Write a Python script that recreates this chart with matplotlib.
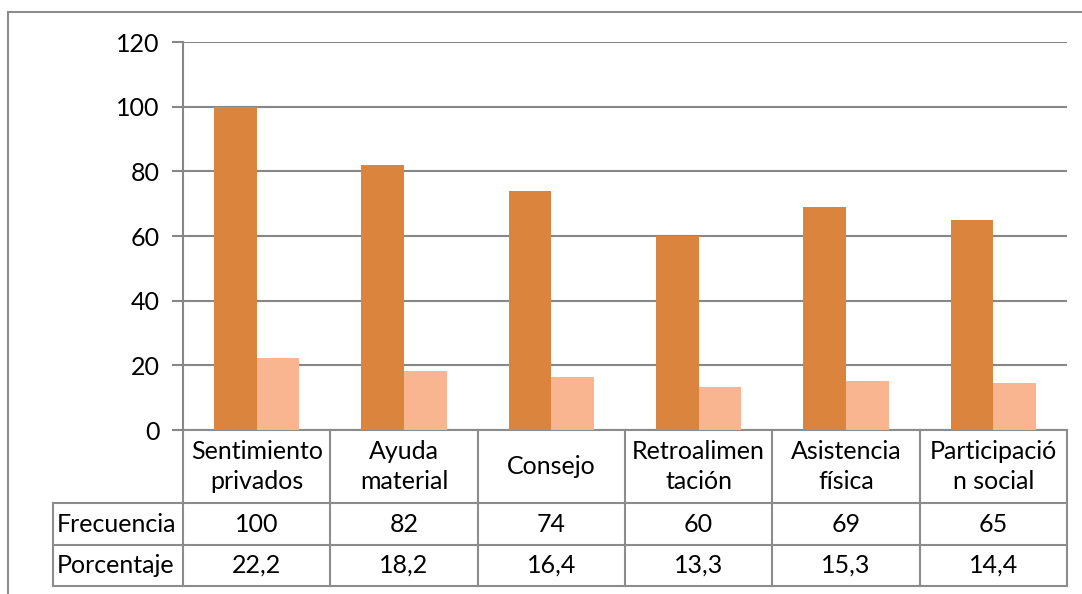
import matplotlib
matplotlib.use("Agg")
import matplotlib.pyplot as plt
from matplotlib.lines import Line2D
import matplotlib.transforms as mtransforms

categories = ["Sentimiento\nprivados", "Ayuda\nmaterial", "Consejo",
              "Retroalimen\ntación", "Asistencia\nfísica", "Participació\nn social"]
frecuencia = [100, 82, 74, 60, 69, 65]
porcentaje = [22.2, 18.2, 16.4, 13.3, 15.3, 14.4]
row_labels = ["Frecuencia", "Porcentaje"]
yticks = [0, 20, 40, 60, 80, 100, 120]

W, H = 1082, 594
FS = 18
plt.rcParams['font.family'] = ['Lato', 'DejaVu Sans']
fig = plt.figure(figsize=(W / 100, H / 100), dpi=100)

x0, x1, ytop, ybot = 183, 1067, 42, 430
ax = fig.add_axes([x0 / W, 1 - ybot / H, (x1 - x0) / W, (ybot - ytop) / H])

c1 = "#DB843D"
c2 = "#F9B590"
grid = "#878787"
n = len(categories)
xs = list(range(n))
bw = 0.29
ax.bar([x - bw / 2 for x in xs], frecuencia, width=bw, color=c1, zorder=3)
ax.bar([x + bw / 2 for x in xs], porcentaje, width=bw, color=c2, zorder=3)

ax.set_xlim(-0.5, n - 0.5)
ax.set_ylim(0, 120)
ax.set_yticks(yticks)
ax.set_yticklabels([str(v) for v in yticks], fontsize=FS)
ax.set_xticks([])
ax.yaxis.grid(True, color=grid, linewidth=1.5, zorder=0)
for s in ["top", "right", "bottom"]:
    ax.spines[s].set_visible(False)
ax.spines["left"].set_color(grid)
ax.spines["left"].set_linewidth(1.5)
ax.tick_params(axis="y", length=8, width=1.5, color=grid, pad=9)

# data table below the axes
trans = mtransforms.blended_transform_factory(ax.transData, ax.transAxes)
ph = ybot - ytop
def fy(py):
    return (ybot - py) / ph

y_head = fy(503)
y_r1 = fy(545)
y_r2 = fy(586)
lw = 1.5
lc = "#8C8C8C"
def hline(xa, xb, y):
    ax.add_line(Line2D([xa, xb], [y, y], transform=trans, color=lc, lw=lw, clip_on=False))
def vline(x, ya, yb):
    ax.add_line(Line2D([x, x], [ya, yb], transform=trans, color=lc, lw=lw, clip_on=False))

lab_left = -0.5 - (x0 - 53) / ((x1 - x0) / n)
hline(-0.5, n - 0.5, 0)
hline(lab_left, n - 0.5, y_head)
hline(lab_left, n - 0.5, y_r1)
hline(lab_left, n - 0.5, y_r2)
for i in range(n + 1):
    vline(i - 0.5, 0, y_r2)
vline(lab_left, y_head, y_r2)

for i, cat in enumerate(categories):
    ax.text(i, (0 + y_head) / 2, cat, transform=trans, ha="center", va="center",
            fontsize=FS, linespacing=1.38, clip_on=False)
    ax.text(i, (y_head + y_r1) / 2, str(frecuencia[i]), transform=trans,
            ha="center", va="center", fontsize=FS, clip_on=False)
    ax.text(i, (y_r1 + y_r2) / 2, f"{porcentaje[i]:.1f}".replace(".", ","),
            transform=trans, ha="center", va="center", fontsize=FS, clip_on=False)
for j, (ya, yb) in enumerate([(y_head, y_r1), (y_r1, y_r2)]):
    ax.text(lab_left + 0.025, (ya + yb) / 2, row_labels[j], transform=trans,
            ha="left", va="center", fontsize=FS, clip_on=False)

# outer chart border
fig.add_artist(Line2D([8 / W, 8 / W], [0, 1 - 12 / H], transform=fig.transFigure,
                      color=lc, lw=1.5))
fig.add_artist(Line2D([8 / W, 1], [1 - 12 / H, 1 - 12 / H], transform=fig.transFigure,
                      color=lc, lw=1.5))

fig.savefig("out.png", dpi=100)
